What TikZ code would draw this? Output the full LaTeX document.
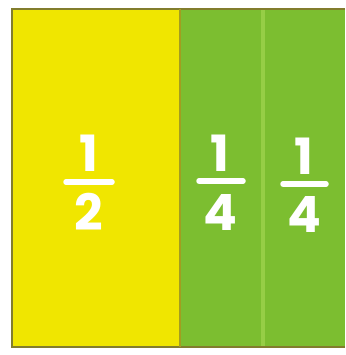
\documentclass[tikz,border=0pt]{standalone}
\usepackage{fontspec}
\setmainfont{Poppins}[UprightFont=* Bold]
\definecolor{halfyellow}{RGB}{240,230,0}
\definecolor{quartergreen}{RGB}{124,190,48}
\definecolor{seamgreen}{RGB}{150,206,70}
\definecolor{frameolive}{RGB}{130,125,45}
\begin{document}
\begin{tikzpicture}[x=1pt,y=-1pt,
  digit/.style={text=white,font=\fontsize{50}{50}\selectfont,inner sep=0pt,anchor=center},
  fracbar/.style={white,line width=5.5pt,line cap=round}]
\useasboundingbox (0,0) rectangle (345,355);
\fill[white] (0,0) rectangle (345,355);
\fill[halfyellow] (12,8) rectangle (180,348);
\fill[quartergreen] (180,8) rectangle (345,348);
\fill[seamgreen] (261,8) rectangle (265,348);
\draw[frameolive,line width=2.5pt] (345,9) -- (12,9) -- (12,347) -- (345,347);
\draw[frameolive!70!halfyellow,line width=2pt] (180,9) -- (180,347);
% one half
\node[digit] (n1) at (89,153) {1};
\node[digit] (d1) at (89,212) {2};
\draw[fracbar] (66,182) -- (112,182);
% first quarter
\node[digit] (n2) at (220,153) {1};
\node[digit] (d2) at (220,212) {4};
\draw[fracbar] (199,181) -- (243,181);
% second quarter
\node[digit] (n3) at (304,156) {1};
\node[digit] (d3) at (304,214) {4};
\draw[fracbar] (283,184) -- (326,184);
\end{tikzpicture}
\end{document}
